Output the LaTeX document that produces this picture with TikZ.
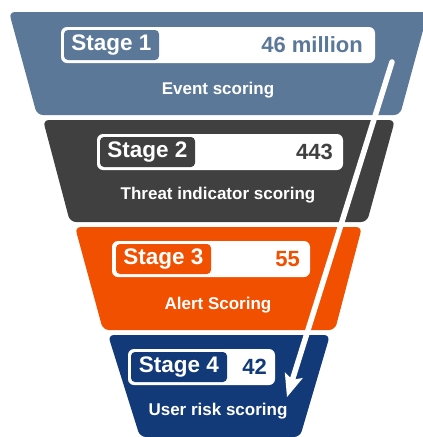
\documentclass[tikz,border=0pt]{standalone}
\usepackage{fontspec}
\setmainfont{Liberation Sans}
\usetikzlibrary{calc}

\definecolor{stageone}{RGB}{91,120,153}
\definecolor{stagetwo}{RGB}{64,64,64}
\definecolor{stagethree}{RGB}{240,80,0}
\definecolor{stagefour}{RGB}{19,58,120}

\begin{document}
\begin{tikzpicture}[
     x=1pt,y=-1pt,
     band/.style={rounded corners=6pt},
     pill/.style={rectangle,rounded corners=6pt,fill=white,inner sep=0pt,minimum height=36pt},
     tag/.style={rectangle,rounded corners=4pt,inner sep=0pt,minimum height=30pt,minimum width=95pt,
       text=white,font=\fontsize{22.5}{24}\selectfont\bfseries},
     count/.style={anchor=east,inner sep=0pt,font=\fontsize{22}{24}\selectfont\bfseries},
     caption/.style={text=white,inner sep=0pt,font=\fontsize{17}{19}\selectfont\bfseries}
   ]
   \path[use as bounding box] (0,0) rectangle (423,437);
   % Funnel bands.
   \fill[stageone,band] (9,12) -- (428,12) -- (400,115) -- (37,115) -- cycle;
   \fill[stagetwo,band] (43,120) -- (395,120) -- (367,222) -- (70,222) -- cycle;
   \fill[stagethree,band] (75,227) -- (362,227) -- (335,330) -- (103,330) -- cycle;
   \fill[stagefour,band] (108,335) -- (330,335) -- (300,437) -- (140,437) -- cycle;
   % Stage 1.
   \node[pill,minimum width=314pt] (p1) at (218,45) {};
   \node[tag,fill=stageone] (s1) at (111.5,45) {Stage 1};
   \node[count,text=stageone] (n1) at (363,45) {46 million};
   \node[caption] (c1) at (218,90) {Event scoring};
   % Stage 2.
   \node[pill,minimum width=246pt] (p2) at (220,152) {};
   \node[tag,fill=stagetwo] (s2) at (147.5,152) {Stage 2};
   \node[count,text=stagetwo] (n2) at (333,152) {443};
   \node[caption] (c2) at (218,195) {Threat indicator scoring};
   % Stage 3.
   \node[pill,minimum width=198pt] (p3) at (211,259) {};
   \node[tag,fill=stagethree] (s3) at (163.5,259) {Stage 3};
   \node[count,text=stagethree] (n3) at (300,259) {55};
   \node[caption] (c3) at (218,305) {Alert Scoring};
   % Stage 4.
   \node[pill,minimum width=147pt] (p4) at (201.5,367) {};
   \node[tag,fill=stagefour,minimum width=96pt] (s4) at (179,367) {Stage 4};
   \node[count,text=stagefour] (n4) at (267,367) {42};
   \node[caption] (c4) at (218,411) {User risk scoring};
   % Flow arrow.
   \coordinate (top) at (392,62);
   \coordinate (tip) at (287,397);
   \draw[white,line width=5.5pt,line cap=round,shorten >=17pt] (top) -- (tip);
   \fill[white] (tip) -- ($(tip)!23pt!(top)!9.5pt!90:(top)$) -- ($(tip)!18pt!(top)$) -- ($(tip)!23pt!(top)!9.5pt!-90:(top)$) -- cycle;
 \end{tikzpicture}
\end{document}
